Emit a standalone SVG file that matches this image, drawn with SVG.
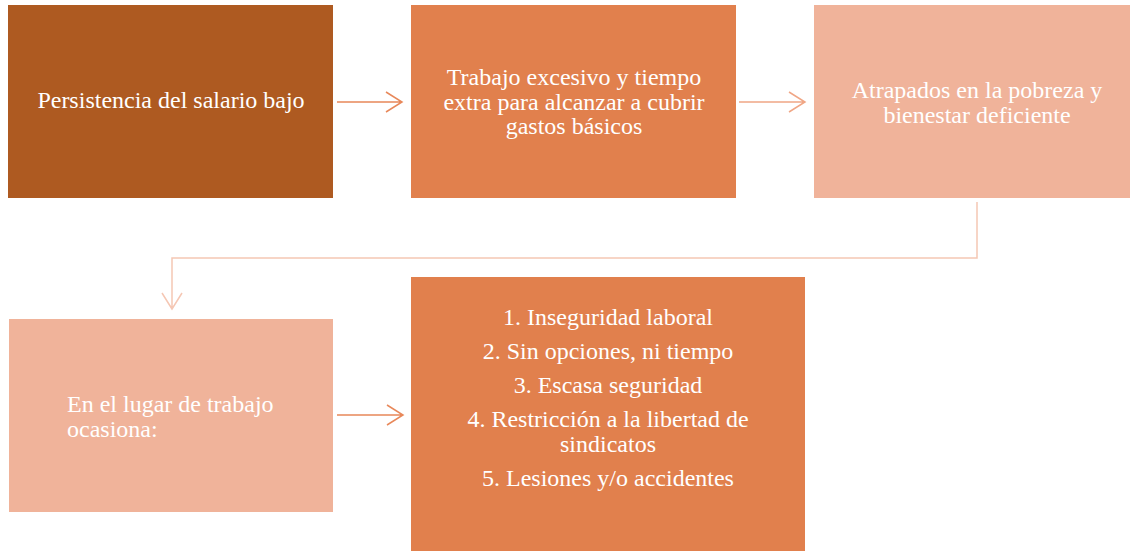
<svg xmlns="http://www.w3.org/2000/svg" width="1130" height="551" viewBox="0 0 1130 551">
<defs>
<style>
text{font-family:"Liberation Serif","Times New Roman",serif;font-size:24px;fill:#ffffff;}
.c{text-anchor:middle;}
</style>
</defs>
<rect width="1130" height="551" fill="#ffffff"/>
<g id="n1"><rect x="8" y="5" width="325" height="193" fill="#AE5A21"/><text class="c" x="171" y="108">Persistencia del salario bajo</text></g>
<g id="n2"><rect x="411" y="5" width="325" height="193" fill="#E1804D"/>
<text class="c" x="574" y="85">Trabajo excesivo y tiempo</text>
<text class="c" x="574" y="110">extra para alcanzar a cubrir</text>
<text class="c" x="574" y="134">gastos básicos</text></g>
<g id="n3"><rect x="814" y="5" width="316" height="193" fill="#F0B39A"/>
<text class="c" x="977" y="98">Atrapados en la pobreza y</text>
<text class="c" x="977" y="123">bienestar deficiente</text></g>
<g id="n4"><rect x="9" y="319" width="324" height="193" fill="#F0B39A"/>
<text x="67" y="412">En el lugar de trabajo</text>
<text x="67" y="437">ocasiona:</text></g>
<g id="n5"><rect x="411" y="277" width="394" height="274" fill="#E1804D"/>
<text class="c" x="608" y="325">1. Inseguridad laboral</text>
<text class="c" x="608" y="359">2. Sin opciones, ni tiempo</text>
<text class="c" x="608" y="393">3. Escasa seguridad</text>
<text class="c" x="608" y="427">4. Restricción a la libertad de</text>
<text class="c" x="608" y="452">sindicatos</text>
<text class="c" x="608" y="486">5. Lesiones y/o accidentes</text></g>
<g id="connectors" fill="none" stroke-width="1.5">
<path d="M337 102H402M386 92L402 102L386 112" stroke="#E8885A"/>
<path d="M739 102H805M789 92L805 102L789 112" stroke="#F0A685"/>
<path d="M977 202V258H172V309M162 293L172 309L182 293" stroke="#F5C7B4"/>
<path d="M337 415H403M387 405L403 415L387 425" stroke="#E8885A"/>
</g>
</svg>
